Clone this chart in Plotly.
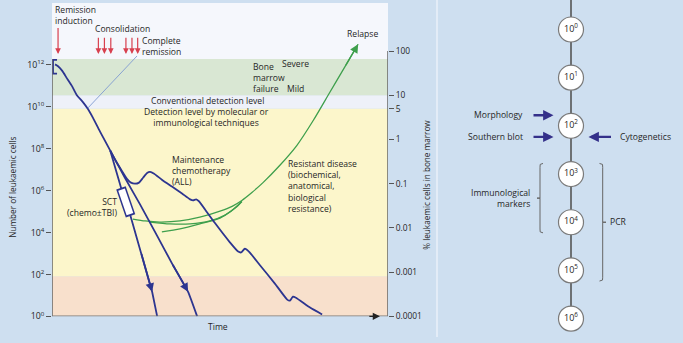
import numpy as np
import plotly.graph_objects as go

# ---------------- LEFT PANEL DATA ----------------
# time in arbitrary units (0-100); leukaemic cell numbers stored as log10 exponents
induction_t = [0.9, 1.8, 3.0, 4.5, 6.0, 7.4, 9.2, 10.7, 12.2, 14.3, 17.3]
induction_log = [12.02, 11.93, 11.72, 11.34, 10.97, 10.55, 10.22, 9.89, 9.47, 8.81, 7.92]

sct_t = [17.3, 19.0, 20.7, 23.2, 26.5, 29.8, 31.3]
sct_log = [7.92, 6.98, 6.05, 4.88, 3.05, 1.17, 0.0]

chemo_t = [17.3, 21.7, 26.2, 31.3, 35.7, 40.5, 43.2]
chemo_log = [7.92, 6.61, 5.34, 3.84, 2.53, 1.17, 0.0]

maint_t = [17.3, 19.0, 20.8, 22.3, 23.5, 24.7, 25.9, 27.1, 28.3, 29.2,
           30.4, 32.7, 35.7, 38.7, 41.1, 42.0, 42.9, 43.8, 45.5, 48.5,
           53.0, 55.4, 56.3, 57.4, 58.6, 61.9, 66.4, 70.0, 70.8, 71.7,
           72.6, 76.8, 80.4]
maint_log = [7.92, 7.41, 6.94, 6.56, 6.38, 6.33, 6.38, 6.61, 6.84, 6.89,
             6.80, 6.52, 6.19, 5.86, 5.58, 5.53, 5.58, 5.48, 5.11, 4.45,
             3.52, 3.09, 3.05, 3.23, 3.09, 2.44, 1.55, 0.80, 0.75, 0.94,
             0.89, 0.42, 0.09]

relapse_t = [24.1, 27.7, 32.1, 38.1, 44.0, 50.0, 53.6, 56.5, 59.5, 62.8,
             67.9, 72.9, 77.7, 82.7, 87.2, 91.1]
relapse_log = [4.64, 4.55, 4.50, 4.55, 4.73, 5.02, 5.25, 5.53, 5.91, 6.38,
               7.22, 8.16, 9.33, 10.69, 11.91, 12.98]

resist2_t = [32.7, 38.1, 44.0, 50.0, 53.6, 56.5]
resist2_log = [4.03, 4.17, 4.41, 4.69, 5.06, 5.48]

resist3_t = [29.2, 35.1, 41.1, 47.0, 51.5, 54.8, 56.5]
resist3_log = [4.50, 4.41, 4.41, 4.55, 4.83, 5.20, 5.48]

induction_arrow_t = [1.8]
consolidation_t = [13.8, 15.6, 17.5, 22.0, 23.8, 25.5]

# bands on % leukaemic cells in bone marrow (right axis)
band_names = ["peach", "yellow", "light", "green", "white"]
band_pct_lo = [0.0001, 0.00081, 5, 10, 66]
band_pct_hi = [0.00081, 5, 10, 66, 1300]

cell_tick_exps = [0, 2, 4, 6, 8, 10, 12]
pct_ticks = [0.0001, 0.001, 0.01, 0.1, 1, 5, 10, 100]
pct_labels = ["0.0001", "0.001", "0.01", "0.1", "1", "5", "10", "100"]

# ---------------- RIGHT PANEL DATA ----------------
levels = [0, 1, 2, 3, 4, 5, 6]
method_names = ["Morphology", "Southern blot", "Cytogenetics"]
method_level = [2, 2, 2]
method_side = ["left", "left", "right"]
immuno_range = [3, 4]
pcr_range = [3, 5]

# ---------------- STYLE / LAYOUT CONSTANTS ----------------
W, H = 683, 343
X0, X1, YT, YB = 52, 388, 3, 322
BG = "#cedff0"
NAVY = "#2d3590"
GREEN = "#3e9f4c"
RED = "#d8404f"
TXT = "#262626"
FONT = "Open Sans"
FS = 8.6

band_colors = {"peach": "#f8e0cc", "yellow": "#fcf6cb", "light": "#eef1f9",
               "green": "#d9e7d3", "white": "#f5f7fc"}

fig = go.Figure()

def cells(v):
    return list(10 ** np.array(v, dtype=float))

line_kw = dict(mode="lines", hoverinfo="skip", showlegend=False, xaxis="x", yaxis="y")

# green resistant disease curves
for tt, ll in [(resist2_t, resist2_log), (resist3_t, resist3_log), (relapse_t, relapse_log)]:
    fig.add_trace(go.Scatter(x=tt, y=cells(ll), line=dict(color=GREEN, width=1.3, shape="spline", smoothing=0.7), **line_kw))

# blue curves
fig.add_trace(go.Scatter(x=induction_t, y=cells(induction_log), line=dict(color=NAVY, width=1.8, shape="spline", smoothing=0.6), **line_kw))
fig.add_trace(go.Scatter(x=sct_t, y=cells(sct_log), line=dict(color=NAVY, width=1.8), **line_kw))
fig.add_trace(go.Scatter(x=chemo_t, y=cells(chemo_log), line=dict(color=NAVY, width=1.8, shape="spline", smoothing=0.4), **line_kw))
fig.add_trace(go.Scatter(x=maint_t, y=cells(maint_log), line=dict(color=NAVY, width=1.8, shape="spline", smoothing=0.5), **line_kw))

# SCT box on the SCT line (between points 2 and 3)
p2 = np.array([sct_t[2], sct_log[2]]); p3 = np.array([sct_t[3], sct_log[3]])
d = p3 - p2
outer = [p2 - 0.07 * d, p3 + 0.07 * d]
fig.add_trace(go.Scatter(x=[outer[0][0], outer[1][0]], y=cells([outer[0][1], outer[1][1]]),
                         line=dict(color=NAVY, width=10), **line_kw))
fig.add_trace(go.Scatter(x=[p2[0], p3[0]], y=cells([p2[1], p3[1]]),
                         line=dict(color="white", width=7), **line_kw))

# bracket at 10^12
fig.add_trace(go.Scatter(x=[1.5, 0.3, 0.3, 1.5], y=cells([12.23, 12.23, 11.58, 11.58]),
                         line=dict(color=NAVY, width=1.8), **line_kw))

# dummy trace for right axis
fig.add_trace(go.Scatter(x=[None], y=[None], xaxis="x", yaxis="y2", showlegend=False, hoverinfo="skip"))

# ---------------- RIGHT PANEL TRACES ----------------
CX = 134
fig.add_trace(go.Scatter(x=[CX, CX], y=[-0.7, levels[-1]], mode="lines",
                         line=dict(color="#555555", width=1.6), xaxis="x3", yaxis="y3",
                         showlegend=False, hoverinfo="skip"))
fig.add_trace(go.Scatter(x=[CX] * len(levels), y=levels, mode="markers+text",
                         text=[f"10<sup>{l}</sup>" for l in levels], textposition="middle center",
                         textfont=dict(family=FONT, size=9, color=TXT),
                         marker=dict(size=25, color="white", line=dict(color="#7a7a7a", width=1.2)),
                         xaxis="x3", yaxis="y3", showlegend=False, hoverinfo="skip"))

PAD = 0.22
lo, hi = immuno_range
mid = (lo + hi) / 2
fig.add_trace(go.Scatter(x=[106, 103.2, 103, 103, 100, 103, 103, 103.2, 106],
                         y=[lo - PAD, lo - PAD + 0.02, lo - PAD + 0.08, mid, mid, mid, hi + PAD - 0.08, hi + PAD - 0.02, hi + PAD],
                         mode="lines", line=dict(color="#666666", width=1), xaxis="x3", yaxis="y3",
                         showlegend=False, hoverinfo="skip"))
lo, hi = pcr_range
mid = (lo + hi) / 2
fig.add_trace(go.Scatter(x=[162.5, 165.5, 165.7, 165.7, 169, 165.7, 165.7, 165.5, 162.5],
                         y=[lo - PAD, lo - PAD + 0.02, lo - PAD + 0.08, mid, mid, mid, hi + PAD - 0.08, hi + PAD - 0.02, hi + PAD],
                         mode="lines", line=dict(color="#666666", width=1), xaxis="x3", yaxis="y3",
                         showlegend=False, hoverinfo="skip"))

# ---------------- SHAPES ----------------
shapes = []
for name, a, b in zip(band_names, band_pct_lo, band_pct_hi):
    shapes.append(dict(type="rect", xref="x", yref="y2", x0=0, x1=100, y0=a, y1=b,
                       fillcolor=band_colors[name], line=dict(width=0), layer="below"))
# axis lines
shapes.append(dict(type="line", xref="x", yref="y", x0=0, x1=0, y0=1, y1=10 ** 12.28,
                   line=dict(color="#666666", width=1.5)))
shapes.append(dict(type="line", xref="x", yref="y2", x0=100, x1=100, y0=1e-4, y1=100,
                   line=dict(color="#666666", width=1.5)))
shapes.append(dict(type="line", xref="x", yref="y", x0=0, x1=100, y0=1, y1=1,
                   line=dict(color="#777777", width=1.5)))
# complete remission pointer
shapes.append(dict(type="line", xref="x", yref="y", x0=10.7, x1=25.3, y0=10 ** 9.94, y1=10 ** 12.42,
                   line=dict(color="#7f9bd0", width=0.9)))
# panel divider
shapes.append(dict(type="line", xref="paper", yref="paper", x0=437 / W, x1=437 / W, y0=0, y1=1,
                   line=dict(color="#eaf1fa", width=1.5)))

# ---------------- ANNOTATIONS ----------------
ann = []
def txt(x, y, s, xanchor="left", align="left", xref="x", yref="y", yanchor="middle", **kw):
    ann.append(dict(x=x, y=y, text=s, xref=xref, yref=yref, showarrow=False, xanchor=xanchor,
                    yanchor=yanchor, align=align, borderpad=0, borderwidth=0,
                    font=dict(family=FONT, size=kw.pop("size", FS), color=TXT), **kw))

def arrow(x, y, ax, ay, color, width, head=2, size=1.0, xref="x", yref="y"):
    ann.append(dict(x=x, y=y, ax=ax, ay=ay, xref=xref, yref=yref, axref=xref, ayref=yref,
                    text="", showarrow=True, arrowhead=head, arrowsize=size, arrowwidth=width,
                    arrowcolor=color, standoff=0, startstandoff=0))

# treatment arrows
for t in induction_arrow_t:
    arrow(t, 12.52, t, 13.83, RED, 1.2, size=0.95)
for t in consolidation_t:
    arrow(t, 12.52, t, 13.36, RED, 1.2, size=0.95)

# arrowheads on curves
arrow(sct_t[5], sct_log[5], sct_t[4], sct_log[4], NAVY, 1.8, size=0.95)
arrow(chemo_t[5], chemo_log[5], chemo_t[4], chemo_log[4], NAVY, 1.8, size=0.95)
arrow(relapse_t[-1], relapse_log[-1], relapse_t[-2], relapse_log[-2], GREEN, 1.3, size=1.3)
# time axis arrow
arrow(97.6, 0, 94.0, 0, "#222222", 1.2, size=1.2)

txt(0.9, 14.37, "Remission<br>induction")
txt(12.8, 13.69, "Consolidation")
txt(26.8, 12.87, "Complete<br>remission")
txt(59.8, 11.39, "Bone<br>marrow<br>failure")
txt(68.4, 12.05, "Severe")
txt(69.8, 10.83, "Mild")
txt(46.3, 10.25, "Conventional detection level", xanchor="center", align="center")
txt(46.1, 9.47, "Detection level by molecular or<br>immunological techniques", xanchor="center", align="center")
txt(35.6, 6.92, "Maintenance<br>chemotherapy<br>(ALL)")
txt(19.3, 5.18, "SCT<br>(chemo±TBI)", xanchor="right", align="right")
txt(70.3, 6.19, "Resistant disease<br>(biochemical,<br>anatomical,<br>biological<br>resistance)")
txt(92.3, 13.45, "Relapse", xanchor="center", align="center")
txt(218 / W, 1 - 333 / H, "Time", xanchor="center", align="center", xref="paper", yref="paper")

# axis titles
txt(13 / W, 1 - 191 / H, "Number of leukaemic cells", xanchor="center", align="center",
    xref="paper", yref="paper", textangle=-90, size=8.2)
txt(427 / W, 1 - 188 / H, "% leukaemic cells in bone marrow", xanchor="center", align="center",
    xref="paper", yref="paper", textangle=-90, size=8.2)

# right panel annotations
AR = "#34308a"
offs = {"Morphology": -0.22, "Southern blot": 0.23, "Cytogenetics": 0.23}
for name, lv, side in zip(method_names, method_level, method_side):
    y = lv + offs[name]
    if side == "left":
        arrow(116.5, y, 95.0, y, AR, 2.3, size=0.9, xref="x3", yref="y3")
        txt(86, y, name, xanchor="right", align="right", xref="x3", yref="y3")
    else:
        arrow(151.5, y, 175.5, y, AR, 2.3, size=0.9, xref="x3", yref="y3")
        txt(183, y, name, xanchor="left", align="left", xref="x3", yref="y3")

txt(93, sum(immuno_range) / 2, "Immunological<br>markers", xanchor="right", align="right", xref="x3", yref="y3")
txt(173, sum(pcr_range) / 2, "PCR", xanchor="left", align="left", xref="x3", yref="y3")

# ---------------- LAYOUT ----------------
noax = dict(visible=False, showgrid=False, zeroline=False)
fig.update_layout(
    width=W, height=H, margin=dict(l=0, r=0, t=0, b=0),
    paper_bgcolor=BG, plot_bgcolor=BG,
    showlegend=False, hovermode=False,
    font=dict(family=FONT, size=FS, color=TXT),
    xaxis=dict(domain=[X0 / W, X1 / W], range=[0, 100], anchor="y", **noax),
    yaxis=dict(domain=[(H - YB) / H, (H - YT) / H], type="log", range=[0, 14.95], anchor="x",
               showgrid=False, zeroline=False, showline=False,
               tickvals=[10 ** e for e in cell_tick_exps],
               ticktext=[f"10<sup>{e}</sup>" for e in cell_tick_exps],
               ticks="outside", ticklen=5, tickwidth=1.2, tickcolor="#555555",
               tickfont=dict(family=FONT, size=8.8, color=TXT)),
    yaxis2=dict(overlaying="y", side="right", anchor="x", type="log", range=[-4, 3.089],
                showgrid=False, zeroline=False, showline=False,
                tickvals=pct_ticks, ticktext=pct_labels,
                ticks="outside", ticklen=5, tickwidth=1.2, tickcolor="#555555",
                tickfont=dict(family=FONT, size=8.4, color=TXT)),
    xaxis3=dict(domain=[437 / W, 1], range=[0, W - 437], anchor="y3", **noax),
    yaxis3=dict(domain=[0, 1], range=[(H - 30) / 49.05, -30 / 49.05], anchor="x3", **noax),
    shapes=shapes, annotations=ann,
)

fig.write_html("out.html")
